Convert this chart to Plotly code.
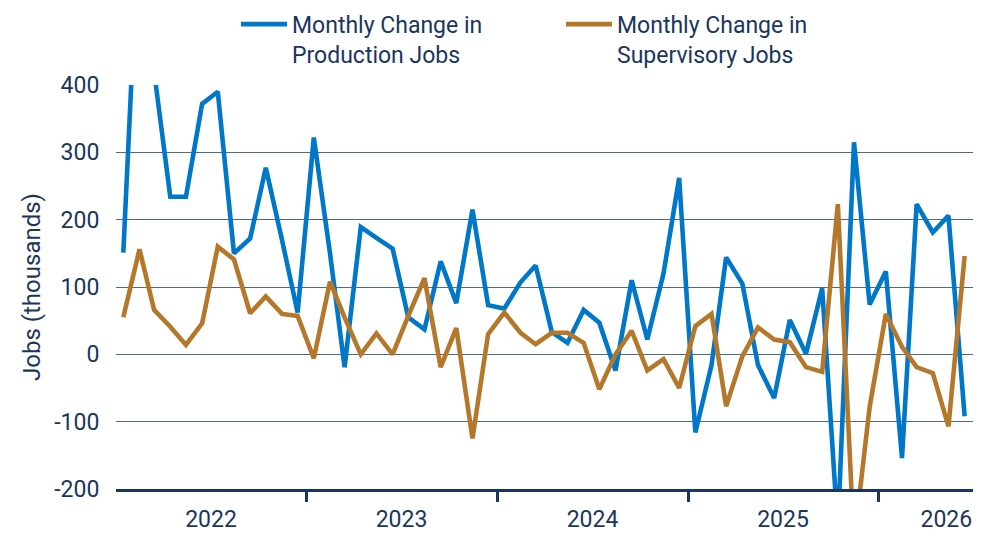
import plotly.graph_objects as go
import pandas as pd

# Monthly observations, Jan 2022 - Jun 2026 (plotted at mid-month)
months = pd.date_range("2022-01-01", periods=54, freq="MS") + pd.Timedelta(days=14)

production = [151, 660, 420, 234, 234, 372, 390, 150, 172, 277, 170, 62,
              322, 150, -19, 189, 173, 157, 55, 37, 138, 76, 215, 73,
              68, 107, 132, 33, 17, 66, 47, -24, 110, 22, 120, 262,
              -116, -16, 144, 105, -16, -65, 51, 1, 98, -260, 315, 74,
              123, -154, 223, 181, 206, -92]

supervisory = [55, 156, 66, 41, 14, 46, 160, 141, 61, 86, 60, 57,
               -6, 108, 55, 0, 31, 0, 57, 113, -19, 39, -125, 30,
               62, 32, 15, 32, 32, 17, -52, 0, 35, -24, -7, -50,
               42, 60, -77, -3, 40, 22, 18, -19, -26, 223, -280, -78,
               60, 11, -19, -28, -107, 146]

series_names = ["Monthly Change in<br>Production Jobs",
                "Monthly Change in<br>Supervisory Jobs"]

year_boundaries = ["2023-01-01", "2024-01-01", "2025-01-01", "2026-01-01"]
year_label_pos = ["2022-07-02", "2023-07-02", "2024-07-02", "2025-07-02", "2026-05-11"]
year_labels = ["2022", "2023", "2024", "2025", "2026"]

y_ticks = [-200, -100, 0, 100, 200, 300, 400]
y_ticktext = ["-200", "-100", "0", "100", "200", "300", "400"]

NAVY = "#1B365D"
BLUE = "#0077C8"
GOLD = "#B5782B"
FONT = "Roboto"

fig = go.Figure()
fig.add_trace(go.Scatter(x=months, y=production, mode="lines",
                         name=series_names[0],
                         line=dict(color=BLUE, width=4.6)))
fig.add_trace(go.Scatter(x=months, y=supervisory, mode="lines",
                         name=series_names[1],
                         line=dict(color=GOLD, width=4.6)))

fig.update_layout(
    width=1000, height=540,
    margin=dict(l=116, r=27, t=85, b=51, autoexpand=False),
    paper_bgcolor="white", plot_bgcolor="white",
    font=dict(family=FONT, size=23, color=NAVY),
    showlegend=True,
    legend=dict(orientation="h", xref="container", yref="container",
                x=0.236, y=0.995, xanchor="left", yanchor="top",
                valign="top", entrywidth=264, entrywidthmode="pixels",
                font=dict(family=FONT, size=23, color=NAVY),
                bgcolor="rgba(0,0,0,0)", itemwidth=46),
    xaxis=dict(
        type="date", automargin=False,
        range=["2022-01-01", "2026-07-01"],
        tickmode="array", tickvals=year_label_pos, ticktext=year_labels,
        ticks="outside", ticklen=7, tickcolor="rgba(0,0,0,0)",
        showgrid=False, zeroline=False,
        showline=True, linecolor=NAVY, linewidth=3,
        tickfont=dict(family=FONT, size=23, color=NAVY),
        minor=dict(tickmode="array", tickvals=year_boundaries,
                   ticks="outside", ticklen=10, tickwidth=2.5,
                   tickcolor=NAVY, showgrid=False),
    ),
    yaxis=dict(
        range=[-200, 400], automargin=False,
        tickmode="array", tickvals=y_ticks, ticktext=y_ticktext,
        showgrid=True, gridcolor="#4F6A86", gridwidth=1,
        zeroline=False, showline=False,
        ticks="outside", ticklen=11, tickcolor="rgba(0,0,0,0)",
        tickfont=dict(family=FONT, size=23, color=NAVY),
        title=dict(text="Jobs (thousands)",
                   font=dict(family=FONT, size=24, color=NAVY),
                   standoff=6),
    ),
)

fig.write_html("out.html")
